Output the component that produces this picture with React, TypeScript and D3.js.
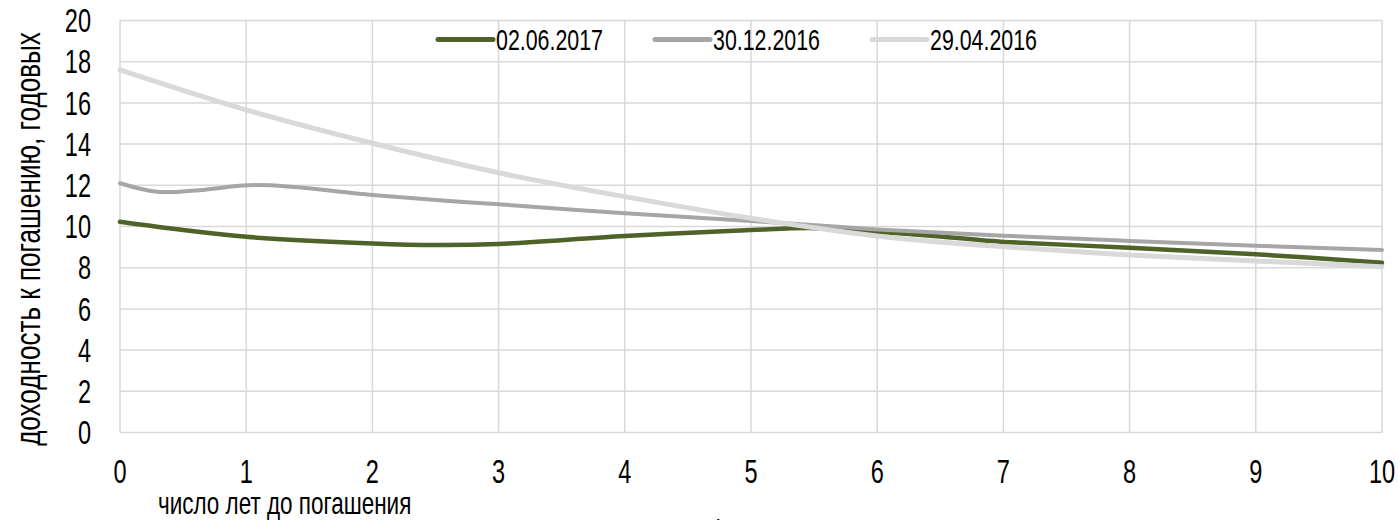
import React, { useEffect, useRef } from "react";
import * as d3 from "d3";

// кривые доходности, годы до погашения -> доходность, % годовых
const seriesNames = ["02.06.2017", "30.12.2016", "29.04.2016"];

const yearsJun2017 = [0, 0.5, 1, 2, 2.5, 3, 4, 5, 5.5, 6, 6.5, 6.85, 7, 8, 9, 10];
const yieldsJun2017 = [10.23, 9.83, 9.5, 9.18, 9.1, 9.15, 9.54, 9.83, 9.92, 9.75, 9.52, 9.32, 9.25, 8.97, 8.65, 8.24];

const yearsDec2016 = [0, 0.29, 0.6, 1.09, 2, 2.61, 3, 4, 5, 6, 7, 8, 9, 10];
const yieldsDec2016 = [12.1, 11.69, 11.75, 12.01, 11.53, 11.24, 11.08, 10.64, 10.27, 9.86, 9.55, 9.3, 9.07, 8.86];

const yearsApr2016 = [0, 1, 2, 3, 4, 5, 6, 6.57, 7, 8, 9, 10];
const yieldsApr2016 = [17.6, 15.66, 14.04, 12.61, 11.45, 10.4, 9.54, 9.21, 9.02, 8.62, 8.33, 8.05];

const xTicks = [0, 1, 2, 3, 4, 5, 6, 7, 8, 9, 10];
const yTicks = [0, 2, 4, 6, 8, 10, 12, 14, 16, 18, 20];

const xTitle = "число лет до погашения";
const yTitle = "доходность к погашению, годовых";

export default function App() {
  const svgRef = useRef(null);
  const width = 1398;
  const height = 520;

  useEffect(() => {
    const svg = d3.select(svgRef.current);
    svg.selectAll("*").remove();

    const font = "'Liberation Sans', Arial, sans-serif";
    const sx = 0.725; // narrow font look

    const x = d3.scaleLinear().domain([0, 10]).range([120, 1382]);
    const y = d3.scaleLinear().domain([0, 20]).range([432.5, 20.5]);

    const series = [
      { name: seriesNames[0], years: yearsJun2017, values: yieldsJun2017, color: "#4f6228", w: 4.5 },
      { name: seriesNames[1], years: yearsDec2016, values: yieldsDec2016, color: "#a6a6a6", w: 4 },
      { name: seriesNames[2], years: yearsApr2016, values: yieldsApr2016, color: "#d9d9d9", w: 5 },
    ];

    // Grid
    const grid = svg.append("g").attr("stroke", "#d9d9d9").attr("stroke-width", 1.5);
    grid
      .selectAll("line.v")
      .data(xTicks)
      .enter()
      .append("line")
      .attr("x1", (d) => x(d))
      .attr("x2", (d) => x(d))
      .attr("y1", y(0))
      .attr("y2", y(20));
    grid
      .selectAll("line.h")
      .data(yTicks)
      .enter()
      .append("line")
      .attr("x1", x(0))
      .attr("x2", x(10))
      .attr("y1", (d) => y(d))
      .attr("y2", (d) => y(d));

    // Tick labels
    svg
      .append("g")
      .selectAll("text")
      .data(yTicks)
      .enter()
      .append("text")
      .attr("transform", (d) => `translate(91,${y(d) + 11.6}) scale(${sx},1)`)
      .attr("text-anchor", "end")
      .style("font-family", font)
      .style("font-size", "32.5px")
      .text((d) => d);

    svg
      .append("g")
      .selectAll("text")
      .data(xTicks)
      .enter()
      .append("text")
      .attr("transform", (d) => `translate(${x(d)},483) scale(${sx},1)`)
      .attr("text-anchor", "middle")
      .style("font-family", font)
      .style("font-size", "32.5px")
      .text((d) => d);

    // Lines
    const line = d3
      .line()
      .x((d) => x(d[0]))
      .y((d) => y(d[1]))
      .curve(d3.curveCatmullRom.alpha(0.5));

    series.forEach((s) => {
      svg
        .append("path")
        .datum(s.years.map((yr, i) => [yr, s.values[i]]))
        .attr("fill", "none")
        .attr("stroke", s.color)
        .attr("stroke-width", s.w)
        .attr("stroke-linecap", "round")
        .attr("stroke-linejoin", "round")
        .attr("d", line);
    });

    // Legend
    const legend = svg.append("g");
    series.forEach((s, i) => {
      const lx = 438 + i * 217;
      legend
        .append("line")
        .attr("x1", lx)
        .attr("x2", lx + 55)
        .attr("y1", 39.5)
        .attr("y2", 39.5)
        .attr("stroke", s.color)
        .attr("stroke-width", 5)
        .attr("stroke-linecap", "round");
      legend
        .append("text")
        .attr("transform", `translate(${lx + 58},50) scale(${sx},1)`)
        .style("font-family", font)
        .style("font-size", "29.5px")
        .text(s.name);
    });

    // Axis titles
    svg
      .append("text")
      .attr("transform", `translate(158,514) scale(${sx},1)`)
      .style("font-family", font)
      .style("font-size", "31px")
      .text(xTitle);

    svg
      .append("text")
      .attr("transform", `translate(40,239) rotate(-90) scale(${sx},1)`)
      .attr("text-anchor", "middle")
      .style("font-family", font)
      .style("font-size", "36px")
      .text(yTitle);

    // page number, cut by the frame
    svg
      .append("text")
      .attr("transform", `translate(718,536) scale(${sx},1)`)
      .attr("text-anchor", "middle")
      .style("font-family", font)
      .style("font-size", "24px")
      .text("1");
  }, []);

  return (
    <svg
      ref={svgRef}
      width={width}
      height={height}
      style={{ position: "absolute", left: 0, top: 0, background: "#fff" }}
    ></svg>
  );
}
